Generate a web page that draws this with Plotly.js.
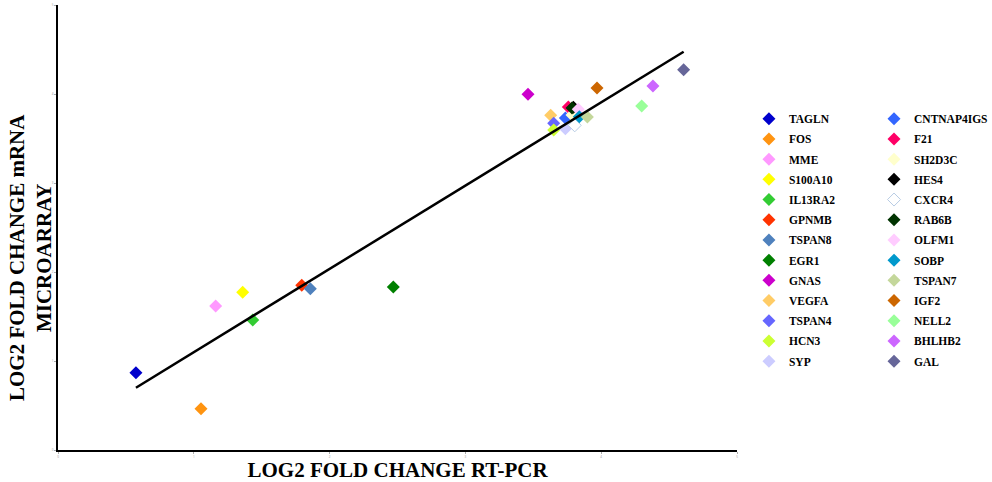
<!DOCTYPE html>
<html>
<head>
<meta charset="utf-8">
<script src="https://cdn.plot.ly/plotly-3.0.1.min.js"></script>
<style>html,body{margin:0;padding:0;background:#fff;}#chart{width:992px;height:482px;}</style>
</head>
<body>
<div id="chart"></div>
<script>
const genes = ["TAGLN","FOS","MME","S100A10","IL13RA2","GPNMB","TSPAN8","EGR1","GNAS","VEGFA","TSPAN4","HCN3","SYP",
               "CNTNAP4IGS","F21","SH2D3C","HES4","CXCR4","RAB6B","OLFM1","SOBP","TSPAN7","IGF2","NELL2","BHLHB2","GAL"];
const rtpcr = [0.574,1.053,1.161,1.360,1.434,1.795,1.858,2.469,3.461,3.628,3.650,3.650,3.736,
               3.736,3.758,3.785,3.795,3.805,3.785,3.831,3.839,3.898,3.969,4.298,4.381,4.607];
const microarray = [0.869,0.464,1.618,1.772,1.461,1.851,1.812,1.831,3.997,3.761,3.671,3.596,3.610,
                    3.730,3.854,3.764,3.851,3.648,3.843,3.828,3.745,3.742,4.067,3.865,4.090,4.273];
const colors = ["#0000CC","#FF9411","#FF99FF","#FFFF00","#33CC33","#FF3300","#4F81BD","#008000","#CC00CC","#FFCC66","#6666FF","#CCFF33","#CCCCFF",
                "#3366FF","#FF0066","#FFFFCC","#000000","#FFFFFF","#003300","#FFCCFF","#0099CC","#C4D79B","#CC6600","#99FF99","#CC66FF","#666699"];
const fitX = [0.574, 4.607];
const fitY = [0.700, 4.475];
const tickVals = [0,1,2,3,4,5];

const serif = "Liberation Serif, Times New Roman, serif";
const traces = genes.map((g,i) => ({
  type: "scatter", mode: "markers", name: g, legendgroup: g,
  x: [rtpcr[i]], y: [microarray[i]],
  legend: i < 13 ? "legend" : "legend2",
  marker: {symbol: "diamond", size: 10, color: colors[i],
           line: {width: g === "CXCR4" ? 1 : 0, color: "#B8CCE4"}}
}));
traces.push({type:"scatter", mode:"lines", x: fitX, y: fitY, showlegend:false,
             line:{color:"#000", width:2.5}, hoverinfo:"skip"});

const legFont = {family: serif, size: 11.5, weight: "bold", color: "#000"};
const layout = {
  width: 992, height: 482,
  margin: {l:58, r:255, t:5, b:32, autoexpand:false},
  paper_bgcolor:"#fff", plot_bgcolor:"#fff",
  showlegend: true,
  xaxis: {range:[0,5], tickvals:tickVals, ticks:"outside", ticklen:2, tickcolor:"#aaa",
          tickfont:{size:3, color:"#999"}, showline:true, linecolor:"#000", linewidth:2,
          showgrid:false, zeroline:false,
          title:{text:"LOG2 FOLD CHANGE RT-PCR", font:{family:serif, size:21, weight:"bold", color:"#000"}, standoff:6}},
  yaxis: {range:[0,5], tickvals:tickVals, ticks:"outside", ticklen:2, tickcolor:"#aaa",
          tickfont:{size:3, color:"#999"}, showline:true, linecolor:"#000", linewidth:2,
          showgrid:false, zeroline:false},
  legend: {x:1.0176, xanchor:"left", y:0.777, yanchor:"top", font:legFont, bgcolor:"rgba(0,0,0,0)",
           traceorder:"grouped", tracegroupgap:1.2},
  legend2: {x:1.2018, xanchor:"left", y:0.777, yanchor:"top", font:legFont, bgcolor:"rgba(0,0,0,0)",
            traceorder:"grouped", tracegroupgap:1.2},
  annotations: [{
    text:"LOG2 FOLD CHANGE mRNA<br>MICROARRAY", textangle:-90, showarrow:false,
    xref:"paper", yref:"paper", x:(30-58)/679, y:(450-258)/445, xanchor:"center", yanchor:"middle",
    font:{family:serif, size:21, weight:"bold", color:"#000"}
  }]
};
Plotly.newPlot("chart", traces, layout, {displayModeBar:false, staticPlot:true});
</script>
</body>
</html>
